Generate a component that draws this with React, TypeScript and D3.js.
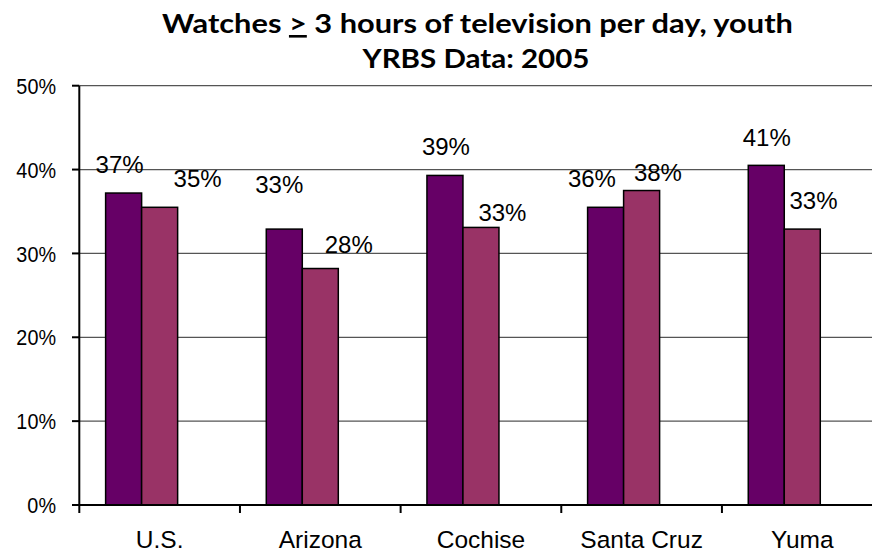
import React from "react";
import * as d3 from "d3";

// values (percent)
const categories = ["U.S.", "Arizona", "Cochise", "Santa Cruz", "Yuma"];
const series1 = [37.2, 32.9, 39.3, 35.5, 40.5];
const series2 = [35.5, 28.2, 33.1, 37.5, 32.9];
const labels1 = ["37%", "33%", "39%", "36%", "41%"];
const labels2 = ["35%", "28%", "33%", "38%", "33%"];
const yTicks = [0, 10, 20, 30, 40, 50];

// label nudges from the bar top centre, as placed in the original
const nudge1 = [[-4, -20], [-5, -36.6], [1, -20.7], [-13.7, -20.6], [0.5, -19.3]];
const nudge2 = [[38, -20], [28.5, -16], [21.5, -6.3], [16.3, -10], [11.2, -19.7]];

const colors = ["#660066", "#993366"];

const App = () => {
  const width = 872, height = 554;
  const left = 79.3, right = 882.6, top = 85.7, bottom = 505;

  const x = d3.scaleBand().domain(categories).range([left, right]).padding(0);
  const sub = d3.scaleBand().domain(["s1", "s2", "s3"]).range([0, x.bandwidth()])
    .paddingInner(0).paddingOuter(0.731);
  const y = d3.scaleLinear().domain([0, 50]).range([bottom, top]);

  const bars = categories.flatMap((c, i) => [
    { c, key: "s1", v: series1[i], label: labels1[i], n: nudge1[i], fill: colors[0] },
    { c, key: "s2", v: series2[i], label: labels2[i], n: nudge2[i], fill: colors[1] },
  ]);

  const bounds = [...categories.map(c => x(c)), right];

  return (
    <svg width={width} height={height}
      style={{ position: "absolute", left: 0, top: 0, background: "#fff" }}>
      <text x={477.5} y={33} textAnchor="middle" fontFamily="Lato, 'Open Sans', sans-serif"
        fontWeight="bold" fontSize={26} textLength={631} lengthAdjust="spacingAndGlyphs">
        Watches <tspan textDecoration="underline">&gt;</tspan> 3 hours of television per day, youth
      </text>
      <text x={476} y={68} textAnchor="middle" fontFamily="Lato, 'Open Sans', sans-serif"
        fontWeight="bold" fontSize={26} textLength={227} lengthAdjust="spacingAndGlyphs">
        YRBS Data: 2005
      </text>

      {yTicks.filter(t => t > 0).map(t => (
        <line key={"g" + t} x1={left} x2={right} y1={y(t)} y2={y(t)} stroke="#555" strokeWidth={1.2} />
      ))}

      {bars.map((b, i) => (
        <rect key={"b" + i} x={x(b.c) + sub(b.key)} y={y(b.v)} width={sub.bandwidth()}
          height={y(0) - y(b.v)} fill={b.fill} stroke="#000" strokeWidth={1.5} />
      ))}

      <line x1={left} x2={left} y1={top} y2={bottom} stroke="#000" strokeWidth={2} />
      <line x1={72} x2={right} y1={bottom} y2={bottom} stroke="#000" strokeWidth={2} />
      {yTicks.map(t => (
        <g key={"t" + t}>
          <line x1={72} x2={left} y1={y(t)} y2={y(t)} stroke="#000" strokeWidth={2} />
          <text transform={`translate(56,${y(t)}) scale(0.88,1)`} dy="0.36em" textAnchor="end"
            fontFamily="'Liberation Sans', Arial, sans-serif" fontSize={22.5}>{t}%</text>
        </g>
      ))}
      {bounds.map((bx, i) => (
        <line key={"xt" + i} x1={bx} x2={bx} y1={bottom} y2={bottom + 8} stroke="#000" strokeWidth={2} />
      ))}
      {categories.map(c => (
        <text key={"c" + c} x={x(c) + x.bandwidth() / 2} y={548} textAnchor="middle"
          fontFamily="'Liberation Sans', Arial, sans-serif" fontSize={24.5}>{c}</text>
      ))}

      {bars.map((b, i) => (
        <text key={"l" + i} x={x(b.c) + sub(b.key) + sub.bandwidth() / 2 + b.n[0]} y={y(b.v) + b.n[1]}
          textAnchor="middle" fontFamily="'Liberation Sans', Arial, sans-serif" fontSize={24}>
          {b.label}
        </text>
      ))}
    </svg>
  );
};

export default App;
